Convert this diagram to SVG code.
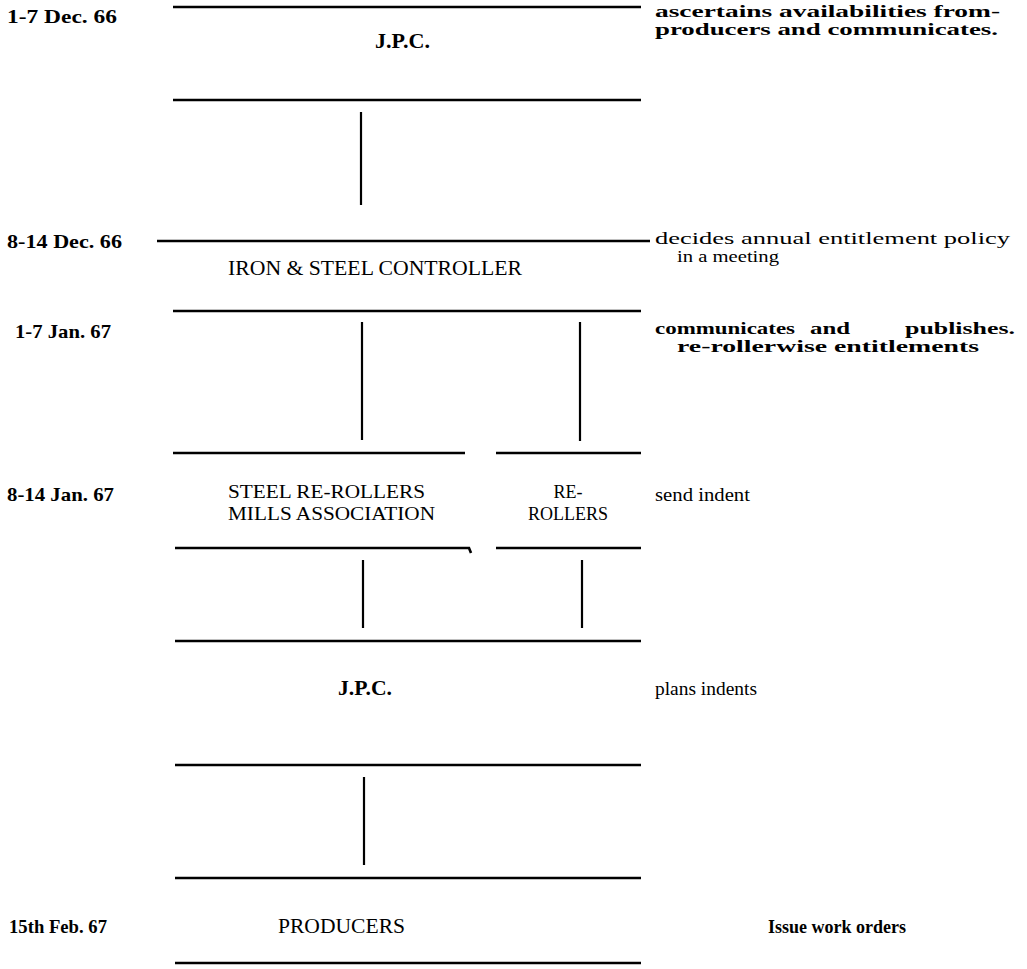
<svg xmlns="http://www.w3.org/2000/svg" width="1027" height="969" viewBox="0 0 1027 969">
<style>
.bar{stroke:#000;stroke-width:2.6;fill:none}
.conn{stroke:#000;stroke-width:2.2;fill:none}
text{font-family:"Liberation Serif","DejaVu Serif","Times New Roman",serif;fill:#000}
.lbl{font-size:20px}
.two{font-size:18px}
.date{font-size:19px;font-weight:bold}
.note{font-size:16px;font-weight:bold}
.plain{font-size:16px}
.big{font-size:19px}
.mid{text-anchor:middle}
</style>
<rect width="1027" height="969" fill="#fff"/>
<g id="dates">
<text class="date" x="7" y="23" textLength="110" lengthAdjust="spacingAndGlyphs">1-7 Dec. 66</text>
<text class="date" x="7" y="248" textLength="115" lengthAdjust="spacingAndGlyphs">8-14 Dec. 66</text>
<text class="date" x="15" y="338" textLength="96" lengthAdjust="spacingAndGlyphs">1-7 Jan. 67</text>
<text class="date" x="7" y="501" textLength="107" lengthAdjust="spacingAndGlyphs">8-14 Jan. 67</text>
<text class="date" x="9" y="933" textLength="98" lengthAdjust="spacingAndGlyphs">15th Feb. 67</text>
</g>
<g id="notes">
<text class="note" x="655" y="17" textLength="345" lengthAdjust="spacingAndGlyphs">ascertains  availabilities from-</text>
<text class="note" x="655" y="35" textLength="343" lengthAdjust="spacingAndGlyphs">producers and communicates.</text>
<text class="plain" x="655" y="244" textLength="355" lengthAdjust="spacingAndGlyphs">decides annual entitlement policy</text>
<text class="plain" x="677" y="262" textLength="102" lengthAdjust="spacingAndGlyphs">in a  meeting</text>
<text class="note" x="655" y="334" textLength="140" lengthAdjust="spacingAndGlyphs">communicates</text>
<text class="note" x="810" y="334" textLength="40" lengthAdjust="spacingAndGlyphs">and</text>
<text class="note" x="905" y="334" textLength="110" lengthAdjust="spacingAndGlyphs">publishes.</text>
<text class="note" x="677" y="352" textLength="302" lengthAdjust="spacingAndGlyphs">re-rollerwise entitlements</text>
<text class="big" x="655" y="501" textLength="95" lengthAdjust="spacingAndGlyphs">send indent</text>
<text class="big" x="655" y="695" textLength="102" lengthAdjust="spacingAndGlyphs">plans indents</text>
<text class="big" x="768" y="933" font-weight="bold" textLength="138" lengthAdjust="spacingAndGlyphs">Issue work  orders</text>
</g>
<g id="node-jpc1">
<line class="bar" x1="173" y1="7" x2="641" y2="7"/>
<text class="lbl" x="375" y="48" font-weight="bold" textLength="55" lengthAdjust="spacingAndGlyphs">J.P.C.</text>
<line class="bar" x1="173" y1="100" x2="641" y2="100"/>
</g>
<g id="node-controller">
<line class="bar" x1="157" y1="241" x2="650" y2="241"/>
<text class="lbl" x="228" y="275" textLength="294" lengthAdjust="spacingAndGlyphs">IRON &amp; STEEL CONTROLLER</text>
<line class="bar" x1="173" y1="311" x2="641" y2="311"/>
</g>
<g id="node-srma">
<line class="bar" x1="173" y1="453" x2="465" y2="453"/>
<text class="two" x="228" y="498" textLength="197" lengthAdjust="spacingAndGlyphs">STEEL RE-ROLLERS</text>
<text class="two" x="228" y="520" textLength="207" lengthAdjust="spacingAndGlyphs">MILLS ASSOCIATION</text>
<path class="bar" d="M175 548 H469 L471 553"/>
</g>
<g id="node-rerollers">
<line class="bar" x1="496" y1="453" x2="641" y2="453"/>
<text class="two mid" x="568" y="498" font-size="19">RE-</text>
<text class="two mid" x="568" y="520" font-size="19">ROLLERS</text>
<line class="bar" x1="496" y1="548" x2="641" y2="548"/>
</g>
<g id="node-jpc2">
<line class="bar" x1="175" y1="641" x2="641" y2="641"/>
<text class="lbl" x="338" y="695" font-weight="bold" textLength="54" lengthAdjust="spacingAndGlyphs">J.P.C.</text>
<line class="bar" x1="175" y1="765" x2="641" y2="765"/>
</g>
<g id="node-producers">
<line class="bar" x1="175" y1="878" x2="641" y2="878"/>
<text class="lbl" x="278" y="933" textLength="127" lengthAdjust="spacingAndGlyphs">PRODUCERS</text>
<line class="bar" x1="175" y1="963" x2="641" y2="963"/>
</g>
<g id="connectors">
<line class="conn" x1="361" y1="112" x2="361" y2="205"/>
<line class="conn" x1="362" y1="322" x2="362" y2="440"/>
<line class="conn" x1="580" y1="322" x2="580" y2="441"/>
<line class="conn" x1="363" y1="560" x2="363" y2="628"/>
<line class="conn" x1="582" y1="560" x2="582" y2="628"/>
<line class="conn" x1="364" y1="777" x2="364" y2="865"/>
</g>
</svg>
